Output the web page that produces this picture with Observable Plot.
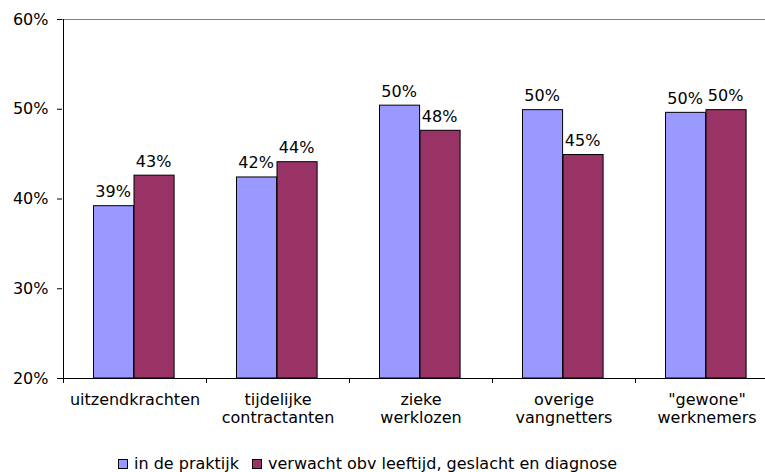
<!DOCTYPE html>
<html><head><meta charset="utf-8">
<script src="https://cdn.jsdelivr.net/npm/d3@7"></script>
<script src="https://cdn.jsdelivr.net/npm/@observablehq/plot@0.6"></script>
<style>
html,body{margin:0;padding:0;background:#fff;overflow:hidden;width:765px;height:472px;}
#chart{position:absolute;left:0;top:0;}
#legend{position:absolute;left:118px;top:454px;display:flex;align-items:center;font-family:"DejaVu Sans",Verdana,sans-serif;font-size:16px;color:#000;white-space:nowrap;}
#legend .sw{width:8px;height:8px;border:1px solid #000;margin-right:6px;}
#legend .item{display:flex;align-items:center;margin-right:13px;}
</style></head><body>
<div id="chart"></div>
<div id="legend"></div>
<script>
const categories = ["uitzendkrachten", "tijdelijke\ncontractanten", "zieke\nwerklozen", "overige\nvangnetters", "\"gewone\"\nwerknemers"];
const series = ["in de praktijk", "verwacht obv leeftijd, geslacht en diagnose"];
const praktijk = [39.2, 42.4, 50.4, 49.9, 49.6];
const verwacht = [42.6, 44.1, 47.6, 44.9, 49.9];
const yTicks = [20, 30, 40, 50, 60];
const colors = ["#9999FF", "#993366"];

const values = [praktijk, verwacht];
const rows = [];
series.forEach((s, si) => categories.forEach((c, ci) => rows.push({cat: c, series: s, si, value: values[si][ci]})));

const width = 779, height = 448, marginLeft = 62, marginRight = 0, marginTop = 19, marginBottom = 70;
const bandW = (width - marginLeft - marginRight) / categories.length;
const barW = 40.5, groupGap = 30.5;
const yMin = yTicks[0], yMax = yTicks[yTicks.length - 1];

function frameLines(index, scales, values, dims) {
  const x = scales.x;
  const y0 = dims.height - dims.marginBottom;
  const g = d3.create("svg:g").attr("stroke", "black").attr("fill", "none");
  for (const c of categories) {
    const px = Math.round(x(c)) + 0.5;
    g.append("line").attr("x1", px).attr("x2", px).attr("y1", y0).attr("y2", y0 + 5);
  }
  const lx = Math.round(x(categories[0])) + 0.5;
  g.append("line").attr("x1", lx).attr("x2", lx).attr("y1", dims.marginTop).attr("y2", y0);
  return g.node();
}

const marks = [
  Plot.ruleY([yMax], {stroke: "#808080"})
];
series.forEach((s, si) => {
  const left = groupGap + si * barW;
  marks.push(Plot.barY(rows.filter(d => d.si === si), {
    x: "cat", y1: yMin, y2: "value", fill: colors[si], stroke: "black", strokeWidth: 1,
    insetLeft: left, insetRight: bandW - left - barW
  }));
  marks.push(Plot.text(rows.filter(d => d.si === si), {
    x: "cat", y: "value", text: d => Math.round(d.value) + "%",
    dx: left + barW / 2 - bandW / 2 - 1, dy: -9, lineAnchor: "bottom", fill: "#000"
  }));
});
marks.push(Plot.ruleY([yMin], {stroke: "black"}));
marks.push(Plot.axisY({ticks: yTicks, tickFormat: d => d + "%", tickSize: 5, tickPadding: 9, label: null, stroke: "black"}));
marks.push(Plot.axisX({tickSize: 0, tickPadding: 14, label: null, lineHeight: 1.1}));
marks.push(frameLines);

const chart = Plot.plot({
  width, height, marginLeft, marginRight, marginTop, marginBottom,
  style: {fontFamily: "DejaVu Sans, Verdana, sans-serif", fontSize: "16px", color: "#000", background: "#fff", maxWidth: "none", overflow: "hidden"},
  x: {domain: categories, padding: 0, label: null},
  y: {domain: [yMin, yMax], label: null},
  marks
});
document.getElementById("chart").appendChild(chart);

const legend = document.getElementById("legend");
series.forEach((s, si) => {
  const item = document.createElement("div");
  item.className = "item";
  const sw = document.createElement("div");
  sw.className = "sw";
  sw.style.background = colors[si];
  const t = document.createElement("span");
  t.textContent = s;
  item.appendChild(sw); item.appendChild(t);
  legend.appendChild(item);
});
</script>
</body></html>
